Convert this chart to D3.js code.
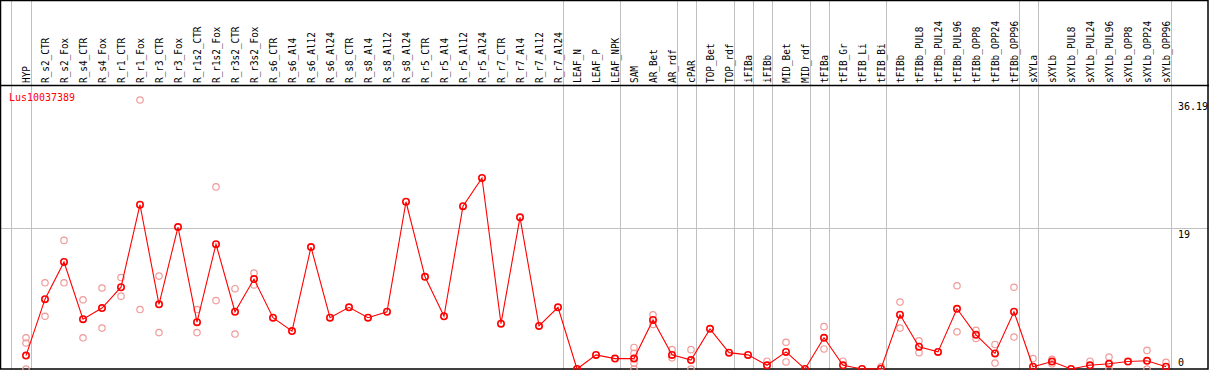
<!DOCTYPE html>
<html><head><meta charset="utf-8">
<script src="https://cdn.jsdelivr.net/npm/d3@7"></script>
<style>html,body{margin:0;padding:0;background:#fff;}svg{display:block;}</style>
</head><body>
<svg id="chart" width="1209" height="370"></svg>
<script>
const categories = ["HYP","R_s2_CTR","R_s2_Fox","R_s4_CTR","R_s4_Fox","R_r1_CTR","R_r1_Fox","R_r3_CTR","R_r3_Fox","R_r1s2_CTR","R_r1s2_Fox","R_r3s2_CTR","R_r3s2_Fox","R_s6_CTR","R_s6_Al4","R_s6_Al12","R_s6_Al24","R_s8_CTR","R_s8_Al4","R_s8_Al12","R_s8_Al24","R_r5_CTR","R_r5_Al4","R_r5_Al12","R_r5_Al24","R_r7_CTR","R_r7_Al4","R_r7_Al12","R_r7_Al24","LEAF_N","LEAF_P","LEAF_NPK","SAM","AR_Bet","AR_rdf","cPAR","TOP_Bet","TOP_rdf","iFIBa","iFIBb","MID_Bet","MID_rdf","tFIBa","tFIB_Gr","tFIB_Li","tFIB_Bi","tFIBb","tFIBb_PUL8","tFIBb_PUL24","tFIBb_PUL96","tFIBb_OPP8","tFIBb_OPP24","tFIBb_OPP96","sXYLa","sXYLb","sXYLb_PUL8","sXYLb_PUL24","sXYLb_PUL96","sXYLb_OPP8","sXYLb_OPP24","sXYLb_OPP96"];
const means = [1.8,9.4,14.4,6.7,8.2,11.0,22.1,8.7,19.1,6.3,16.8,7.7,12.1,6.9,5.1,16.4,6.9,8.3,6.9,7.7,22.5,12.4,7.1,21.9,25.7,6.1,20.4,5.8,8.3,0,1.9,1.4,1.4,6.6,1.9,1.2,5.4,2.2,1.9,0.5,2.3,0,4.2,0.5,0,0.05,7.3,3.0,2.3,8.1,4.6,2.1,7.7,0.3,1.0,0,0.5,0.7,1.0,1.1,0.3];
const replicates = [[4.2,3.5,0],[11.6,7.1],[17.3,11.6],[9.3,4.2],[10.9,5.5],[12.3,9.8],[36.19,8.0],[12.5,4.9],[],[8.0,4.9],[24.5,9.2],[10.8,4.7],[12.9,11.3],[],[],[],[],[],[],[],[],[],[],[],[],[],[],[],[],[],[],[],[2.9,2.1,0.8,0],[7.3,6.0],[2.6,1.5],[2.6,0],[],[],[],[1.05],[3.6,0.95],[],[5.7,2.7],[1.05],[],[0.3],[9.0,5.5],[3.8,2.2],[],[11.2,5.0],[5.2,4.1],[3.3,0.8],[11.0,4.3],[1.4],[1.3,0.7],[],[1.05],[1.6,0],[],[2.5,0],[0.9]];
const groupEnds = ["HYP","R_r7_Al24","LEAF_NPK","AR_rdf","cPAR","TOP_rdf","iFIBa","iFIBb","MID_rdf","tFIBa","tFIB_Bi","tFIBb_OPP96","sXYLa","sXYLb_OPP96"];
const yTicks = [0, 19, 36.19];
const geneName = "Lus10037389";

const W = 1209, H = 370;
const svg = d3.select("#chart");
const x = d3.scalePoint().domain(categories).range([26, 1166]).padding(0);
const y = d3.scaleLinear().domain([0, 36.19]).range([369, 100]);
const gray = "#c0c0c0";

// group separator lines
const sepX = [x(categories[0]) - 15.5].concat(groupEnds.map(c => x(c) + 4.5));
svg.append("g").selectAll("line").data(sepX).join("line")
  .attr("x1", d => Math.round(d) + 0.5).attr("x2", d => Math.round(d) + 0.5)
  .attr("y1", 0).attr("y2", H)
  .attr("stroke", gray).attr("stroke-width", 1);

// horizontal grid at 19
svg.append("line")
  .attr("x1", 0).attr("x2", W).attr("y1", Math.round(y(19)) + 0.5).attr("y2", Math.round(y(19)) + 0.5)
  .attr("stroke", gray).attr("stroke-width", 1);

// frame
svg.append("rect").attr("x", 0.5).attr("y", 0.5).attr("width", W - 1.5).attr("height", H - 1.5)
  .attr("fill", "none").attr("stroke", "#000").attr("stroke-width", 1.5);
svg.append("line").attr("x1", 0).attr("x2", W).attr("y1", 85.5).attr("y2", 85.5)
  .attr("stroke", "#000").attr("stroke-width", 1.5);

// column labels
svg.append("g").selectAll("text").data(categories).join("text")
  .attr("transform", d => `translate(${x(d) + 4},83) rotate(-90)`)
  .attr("font-family", "DejaVu Sans Mono, monospace")
  .attr("font-size", 11)
  .attr("textLength", d => d.length * 5.65)
  .attr("lengthAdjust", "spacingAndGlyphs")
  .attr("fill", "#000")
  .text(d => d);

// y axis labels
const yAxis = d3.axisRight(y).tickValues(yTicks).tickSize(0).tickPadding(0)
  .tickFormat(d => d === 36.19 ? "36.19" : String(d));
const ag = svg.append("g").attr("transform", "translate(1178,0)").call(yAxis);
ag.select(".domain").remove();
ag.selectAll("text")
  .attr("font-family", "DejaVu Sans Mono, monospace").attr("font-size", 10).attr("fill", "#000")
  .attr("x", 0)
  .attr("dy", d => d === 0 ? "-0.35em" : "0.95em");

// gene label
svg.append("text").attr("x", 9).attr("y", 101)
  .attr("font-family", "DejaVu Sans Mono, monospace").attr("font-size", 10)
  .attr("textLength", 66).attr("lengthAdjust", "spacingAndGlyphs")
  .attr("fill", "#ff0000").text(geneName);

// replicates
const repPts = [];
categories.forEach((c, i) => replicates[i].forEach(v => repPts.push({c, v})));
svg.append("g").selectAll("circle").data(repPts).join("circle")
  .attr("cx", d => x(d.c)).attr("cy", d => y(d.v)).attr("r", 3.2)
  .attr("fill", "none").attr("stroke", "#f09a9a").attr("stroke-width", 1.2);

// mean line
const pts = categories.map((c, i) => ({c, v: means[i]}));
svg.append("path").datum(pts)
  .attr("d", d3.line().x(d => x(d.c)).y(d => y(d.v)))
  .attr("fill", "none").attr("stroke", "#ff0000").attr("stroke-width", 1.1);

svg.append("g").selectAll("circle").data(pts).join("circle")
  .attr("cx", d => x(d.c)).attr("cy", d => y(d.v)).attr("r", 3.2)
  .attr("fill", "none").attr("stroke", "#ff0000").attr("stroke-width", 1.6);
</script>
</body></html>
